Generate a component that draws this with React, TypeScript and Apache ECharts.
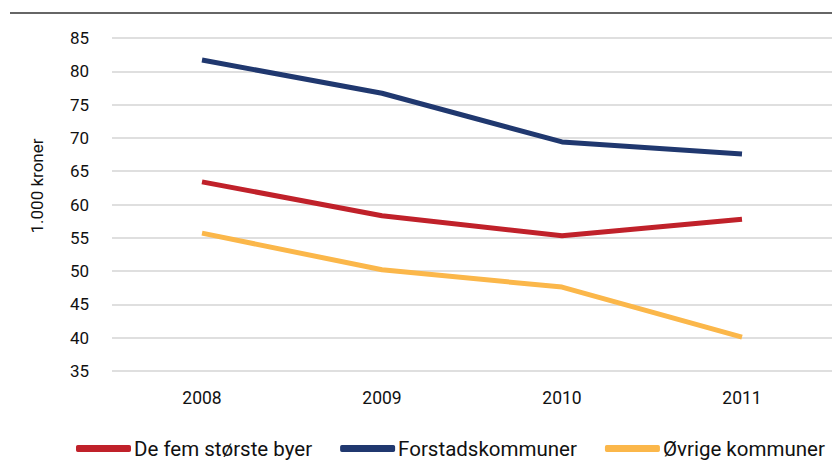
import React, { useEffect, useRef } from "react";
import * as echarts from "echarts";

const years = ["2008", "2009", "2010", "2011"];
const femStorste = [63.4, 58.3, 55.3, 57.8];
const forstad = [81.7, 76.7, 69.4, 67.6];
const ovrige = [55.7, 50.2, 47.6, 40.1];
const seriesNames = ["De fem største byer", "Forstadskommuner", "Øvrige kommuner"];
const colors = ["#C0212A", "#20386F", "#FBB74A"];
const yAxisTitle = "1.000 kroner";

export default function App() {
  const ref = useRef<HTMLDivElement>(null);
  useEffect(() => {
    const chart = echarts.init(ref.current!, null, { renderer: "svg" });
    const font = "Roboto, 'DejaVu Sans', sans-serif";
    const data = [femStorste, forstad, ovrige];
    chart.setOption({
      animation: false,
      textStyle: { fontFamily: font },
      graphic: [
        { type: "line", shape: { x1: 10, y1: 13, x2: 832, y2: 13 }, style: { stroke: "#666", lineWidth: 2 } },
        {
          type: "text",
          x: 37,
          y: 186,
          rotation: Math.PI / 2,
          style: { text: yAxisTitle, fontSize: 17, fill: "#111", fontFamily: font, align: "center", verticalAlign: "middle" },
        },
      ],
      grid: { left: 112, top: 38, width: 724, height: 333 },
      legend: {
        bottom: -1,
        left: 71,
        itemWidth: 55,
        itemHeight: 7,
        itemGap: 28,
        icon: "roundRect",
        textStyle: { fontSize: 20.5, color: "#111", fontFamily: font, padding: [0, 0, 0, -2] },
        data: seriesNames,
      },
      xAxis: {
        type: "category",
        data: years,
        boundaryGap: true,
        axisLine: { show: false },
        axisTick: { show: false },
        axisLabel: { fontSize: 17.5, color: "#111", margin: 18 },
      },
      yAxis: {
        type: "value",
        min: 35,
        max: 85,
        interval: 5,
        axisLine: { show: false },
        axisTick: { show: false },
        axisLabel: { fontSize: 17, color: "#111", margin: 23 },
        splitLine: { lineStyle: { color: "#D4D4D4", width: 1.5 } },
      },
      series: seriesNames.map((n, i) => ({
        name: n,
        type: "line",
        data: data[i],
        symbol: "none",
        color: colors[i],
        lineStyle: { width: 5, color: colors[i] },
      })),
    });
    return () => chart.dispose();
  }, []);
  return <div ref={ref} style={{ width: 832, height: 463, position: "absolute", left: 0, top: 0 }} />;
}
